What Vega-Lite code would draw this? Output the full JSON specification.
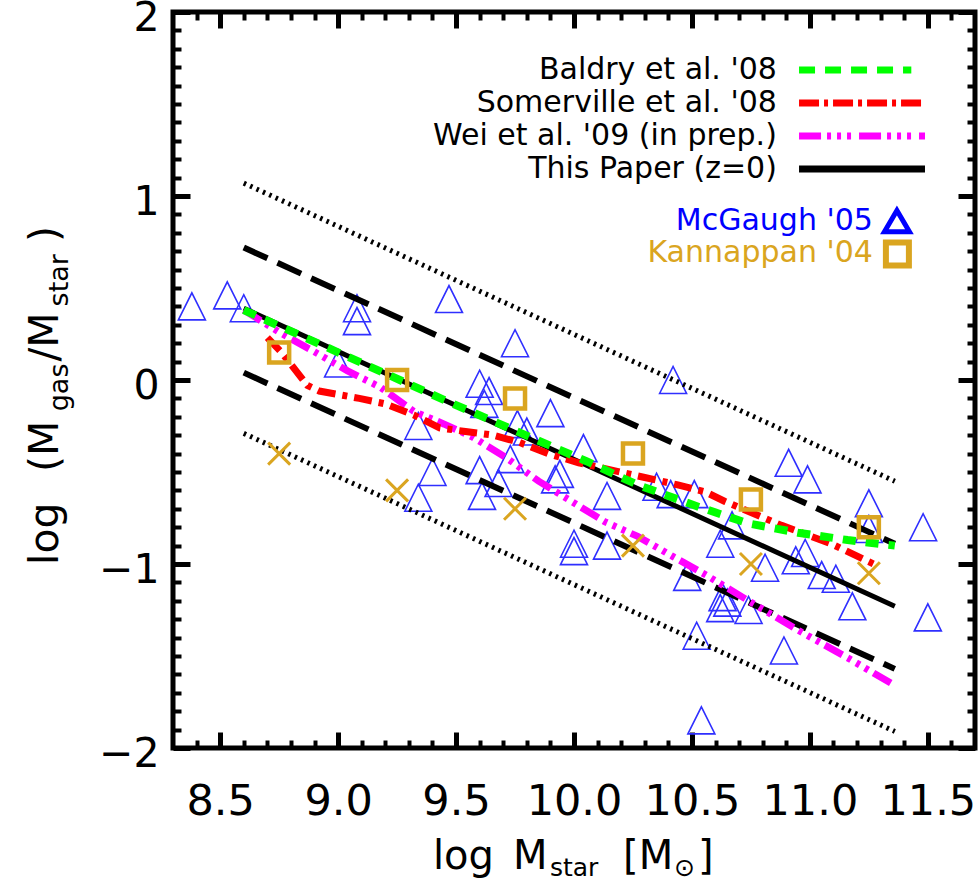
{
  "$schema": "https://vega.github.io/schema/vega-lite/v6.json",
  "width": 802,
  "height": 736,
  "autosize": {"type": "none"},
  "padding": {"left": 173, "top": 12, "right": 5, "bottom": 135},
  "background": "white",
  "config": {"view": {"stroke": "black", "strokeWidth": 5}, "font": "DejaVu Sans"},
  "resolve": {"axis": {"x": "independent", "y": "independent"}},
  "datasets": {
    "one": [{}],
    "tri": [
      {"x": 8.38, "y": 0.40}, {"x": 8.53, "y": 0.46}, {"x": 8.60, "y": 0.39}, {"x": 9.08, "y": 0.39},
      {"x": 9.08, "y": 0.32}, {"x": 9.00, "y": 0.09}, {"x": 9.47, "y": 0.44}, {"x": 9.75, "y": 0.20},
      {"x": 9.60, "y": -0.02}, {"x": 9.64, "y": -0.06}, {"x": 9.62, "y": -0.13}, {"x": 9.76, "y": -0.24},
      {"x": 9.80, "y": -0.28}, {"x": 9.90, "y": -0.18}, {"x": 10.04, "y": -0.37}, {"x": 10.42, "y": 0.00},
      {"x": 9.34, "y": -0.25}, {"x": 9.40, "y": -0.50}, {"x": 9.34, "y": -0.64}, {"x": 9.60, "y": -0.49},
      {"x": 9.61, "y": -0.63}, {"x": 9.68, "y": -0.56}, {"x": 9.73, "y": -0.43}, {"x": 9.92, "y": -0.54},
      {"x": 9.94, "y": -0.51}, {"x": 10.14, "y": -0.63}, {"x": 10.00, "y": -0.89}, {"x": 10.00, "y": -0.93},
      {"x": 10.14, "y": -0.90}, {"x": 10.35, "y": -0.58}, {"x": 10.41, "y": -0.62}, {"x": 10.51, "y": -0.62},
      {"x": 10.62, "y": -0.89}, {"x": 10.67, "y": -0.79}, {"x": 10.91, "y": -0.45}, {"x": 10.99, "y": -0.54},
      {"x": 11.25, "y": -0.67}, {"x": 11.25, "y": -0.81}, {"x": 11.48, "y": -0.80}, {"x": 11.50, "y": -1.29},
      {"x": 10.48, "y": -1.07}, {"x": 10.52, "y": -1.39}, {"x": 10.54, "y": -1.85}, {"x": 10.81, "y": -1.02},
      {"x": 10.94, "y": -0.98}, {"x": 10.98, "y": -0.94}, {"x": 11.05, "y": -1.06}, {"x": 11.11, "y": -1.08},
      {"x": 11.18, "y": -1.23}, {"x": 10.89, "y": -1.47}, {"x": 10.63, "y": -1.18}, {"x": 10.65, "y": -1.21},
      {"x": 10.62, "y": -1.24}, {"x": 10.74, "y": -1.25}
    ],
    "sq": [
      {"x": 8.75, "y": 0.15}, {"x": 9.25, "y": 0.0}, {"x": 9.75, "y": -0.10},
      {"x": 10.25, "y": -0.40}, {"x": 10.75, "y": -0.65}, {"x": 11.25, "y": -0.80}
    ],
    "cr": [
      {"x": 8.75, "y": -0.40}, {"x": 9.25, "y": -0.60}, {"x": 9.75, "y": -0.70},
      {"x": 10.25, "y": -0.90}, {"x": 10.75, "y": -1.00}, {"x": 11.25, "y": -1.05}
    ],
    "lines": [
      {"s": "solid", "x": 8.60, "y": 0.39}, {"s": "solid", "x": 11.36, "y": -1.23},
      {"s": "dash_hi", "x": 8.60, "y": 0.72}, {"s": "dash_hi", "x": 11.36, "y": -0.89},
      {"s": "dash_lo", "x": 8.60, "y": 0.04}, {"s": "dash_lo", "x": 11.36, "y": -1.57},
      {"s": "dot_hi", "x": 8.60, "y": 1.07}, {"s": "dot_hi", "x": 11.36, "y": -0.55},
      {"s": "dot_lo", "x": 8.60, "y": -0.29}, {"s": "dot_lo", "x": 11.36, "y": -1.91},
      {"s": "green", "x": 8.60, "y": 0.38}, {"s": "green", "x": 9.47, "y": -0.12}, {"s": "green", "x": 9.85, "y": -0.33},
      {"s": "green", "x": 10.05, "y": -0.44}, {"s": "green", "x": 10.27, "y": -0.57}, {"s": "green", "x": 10.53, "y": -0.69},
      {"s": "green", "x": 10.74, "y": -0.78}, {"s": "green", "x": 10.95, "y": -0.83}, {"s": "green", "x": 11.16, "y": -0.87},
      {"s": "green", "x": 11.36, "y": -0.90},
      {"s": "red", "x": 8.70, "y": 0.23}, {"s": "red", "x": 8.76, "y": 0.15}, {"s": "red", "x": 8.87, "y": -0.03},
      {"s": "red", "x": 8.92, "y": -0.06}, {"s": "red", "x": 9.09, "y": -0.10}, {"s": "red", "x": 9.20, "y": -0.13},
      {"s": "red", "x": 9.32, "y": -0.19}, {"s": "red", "x": 9.43, "y": -0.26}, {"s": "red", "x": 9.54, "y": -0.28},
      {"s": "red", "x": 9.66, "y": -0.30}, {"s": "red", "x": 9.77, "y": -0.34}, {"s": "red", "x": 9.89, "y": -0.40},
      {"s": "red", "x": 10.02, "y": -0.45}, {"s": "red", "x": 10.16, "y": -0.49}, {"s": "red", "x": 10.30, "y": -0.53},
      {"s": "red", "x": 10.44, "y": -0.57}, {"s": "red", "x": 10.56, "y": -0.61}, {"s": "red", "x": 10.64, "y": -0.66},
      {"s": "red", "x": 10.88, "y": -0.79}, {"s": "red", "x": 11.09, "y": -0.89}, {"s": "red", "x": 11.27, "y": -1.00},
      {"s": "mag", "x": 8.60, "y": 0.38}, {"s": "mag", "x": 8.75, "y": 0.26}, {"s": "mag", "x": 8.89, "y": 0.16},
      {"s": "mag", "x": 9.04, "y": 0.05}, {"s": "mag", "x": 9.18, "y": -0.04}, {"s": "mag", "x": 9.32, "y": -0.17},
      {"s": "mag", "x": 9.45, "y": -0.24}, {"s": "mag", "x": 9.57, "y": -0.31}, {"s": "mag", "x": 9.71, "y": -0.42},
      {"s": "mag", "x": 9.85, "y": -0.55}, {"s": "mag", "x": 9.99, "y": -0.66}, {"s": "mag", "x": 10.13, "y": -0.77},
      {"s": "mag", "x": 10.27, "y": -0.85}, {"s": "mag", "x": 10.42, "y": -0.96}, {"s": "mag", "x": 10.56, "y": -1.06},
      {"s": "mag", "x": 10.74, "y": -1.20}, {"s": "mag", "x": 10.95, "y": -1.36}, {"s": "mag", "x": 11.16, "y": -1.51},
      {"s": "mag", "x": 11.36, "y": -1.66}
    ]
  },
  "layer": [
    {
      "data": {"name": "tri"},
      "mark": {"type": "point", "shape": "M-1,1L0,-1L1,1Z", "size": 729, "filled": false, "color": "#2f2fff", "strokeWidth": 1.6, "opacity": 1},
      "encoding": {
        "x": {"field": "x", "type": "quantitative", "scale": {"domain": [8.3, 11.7], "nice": false, "zero": false},
          "axis": {"orient": "bottom", "values": [8.5, 9, 9.5, 10, 10.5, 11, 11.5], "format": ".1f", "ticks": false, "domain": false, "grid": false,
            "labelFontSize": 43, "labelFont": "DejaVu Sans", "labelColor": "black", "labelPadding": 32, "labelFlush": false, "labelOverlap": false, "title": null}},
        "y": {"field": "y", "type": "quantitative", "scale": {"domain": [-2, 2], "nice": false, "zero": false},
          "axis": {"orient": "left", "values": [-2, -1, 0, 1, 2], "format": "d", "ticks": false, "domain": false, "grid": false,
            "labelFontSize": 41, "labelFont": "DejaVu Sans", "labelColor": "black", "labelPadding": 14, "labelOffset": 6, "labelFlush": false, "labelOverlap": false, "title": null}}
      }
    },
    {
      "data": {"name": "lines"},
      "transform": [{"filter": "datum.s === 'dot_hi'"}],
      "mark": {"type": "line", "color": "black", "strokeWidth": 5, "strokeDash": [2.5, 4.5]},
      "encoding": {
        "x": {"field": "x", "type": "quantitative", "scale": {"domain": [8.3, 11.7], "nice": false, "zero": false},
          "axis": {"orient": "bottom", "values": [8.5, 9, 9.5, 10, 10.5, 11, 11.5], "labels": false, "domain": false, "grid": false, "tickSize": -16, "tickWidth": 5, "tickColor": "black", "title": null}},
        "y": {"field": "y", "type": "quantitative", "scale": {"domain": [-2, 2], "nice": false, "zero": false},
          "axis": {"orient": "left", "values": [-2, -1, 0, 1, 2], "labels": false, "domain": false, "grid": false, "tickSize": -17, "tickWidth": 5, "tickColor": "black", "title": null}}
      }
    },
    {
      "data": {"name": "lines"},
      "transform": [{"filter": "datum.s === 'dot_lo'"}],
      "mark": {"type": "line", "color": "black", "strokeWidth": 5, "strokeDash": [2.5, 4.5]},
      "encoding": {
        "x": {"field": "x", "type": "quantitative", "scale": {"domain": [8.3, 11.7], "nice": false, "zero": false},
          "axis": {"orient": "bottom", "values": [8.4, 8.6, 8.7, 8.8, 8.9, 9.1, 9.2, 9.3, 9.4, 9.6, 9.7, 9.8, 9.9, 10.1, 10.2, 10.3, 10.4, 10.6, 10.7, 10.8, 10.9, 11.1, 11.2, 11.3, 11.4, 11.6], "labels": false, "domain": false, "grid": false, "tickSize": -8, "tickWidth": 4, "tickColor": "black", "title": null}},
        "y": {"field": "y", "type": "quantitative", "scale": {"domain": [-2, 2], "nice": false, "zero": false},
          "axis": {"orient": "left", "values": [-1.9, -1.8, -1.7, -1.6, -1.5, -1.4, -1.3, -1.2, -1.1, -0.9, -0.8, -0.7, -0.6, -0.5, -0.4, -0.3, -0.2, -0.1, 0.1, 0.2, 0.3, 0.4, 0.5, 0.6, 0.7, 0.8, 0.9, 1.1, 1.2, 1.3, 1.4, 1.5, 1.6, 1.7, 1.8, 1.9], "labels": false, "domain": false, "grid": false, "tickSize": -8, "tickWidth": 4, "tickColor": "black", "title": null}}
      }
    },
    {
      "data": {"name": "lines"},
      "transform": [{"filter": "datum.s === 'dash_hi'"}],
      "mark": {"type": "line", "color": "black", "strokeWidth": 6, "strokeDash": [26, 11]},
      "encoding": {
        "x": {"field": "x", "type": "quantitative", "scale": {"domain": [8.3, 11.7], "nice": false, "zero": false},
          "axis": {"orient": "top", "values": [8.5, 9, 9.5, 10, 10.5, 11, 11.5], "labels": false, "domain": false, "grid": false, "tickSize": -16, "tickWidth": 5, "tickColor": "black", "title": null}},
        "y": {"field": "y", "type": "quantitative", "scale": {"domain": [-2, 2], "nice": false, "zero": false},
          "axis": {"orient": "right", "values": [-2, -1, 0, 1, 2], "labels": false, "domain": false, "grid": false, "tickSize": -17, "tickWidth": 5, "tickColor": "black", "title": null}}
      }
    },
    {
      "data": {"name": "lines"},
      "transform": [{"filter": "datum.s === 'dash_lo'"}],
      "mark": {"type": "line", "color": "black", "strokeWidth": 6, "strokeDash": [26, 11]},
      "encoding": {
        "x": {"field": "x", "type": "quantitative", "scale": {"domain": [8.3, 11.7], "nice": false, "zero": false},
          "axis": {"orient": "top", "values": [8.4, 8.6, 8.7, 8.8, 8.9, 9.1, 9.2, 9.3, 9.4, 9.6, 9.7, 9.8, 9.9, 10.1, 10.2, 10.3, 10.4, 10.6, 10.7, 10.8, 10.9, 11.1, 11.2, 11.3, 11.4, 11.6], "labels": false, "domain": false, "grid": false, "tickSize": -8, "tickWidth": 4, "tickColor": "black", "title": null}},
        "y": {"field": "y", "type": "quantitative", "scale": {"domain": [-2, 2], "nice": false, "zero": false},
          "axis": {"orient": "right", "values": [-1.9, -1.8, -1.7, -1.6, -1.5, -1.4, -1.3, -1.2, -1.1, -0.9, -0.8, -0.7, -0.6, -0.5, -0.4, -0.3, -0.2, -0.1, 0.1, 0.2, 0.3, 0.4, 0.5, 0.6, 0.7, 0.8, 0.9, 1.1, 1.2, 1.3, 1.4, 1.5, 1.6, 1.7, 1.8, 1.9], "labels": false, "domain": false, "grid": false, "tickSize": -8, "tickWidth": 4, "tickColor": "black", "title": null}}
      }
    },
    {
      "data": {"name": "lines"},
      "transform": [{"filter": "datum.s === 'solid'"}],
      "mark": {"type": "line", "color": "black", "strokeWidth": 5},
      "encoding": {
        "x": {"field": "x", "type": "quantitative", "scale": {"domain": [8.3, 11.7], "nice": false, "zero": false}, "axis": null},
        "y": {"field": "y", "type": "quantitative", "scale": {"domain": [-2, 2], "nice": false, "zero": false}, "axis": null}
      }
    },
    {
      "data": {"name": "lines"},
      "transform": [{"filter": "datum.s === 'mag'"}],
      "mark": {"type": "line", "color": "#ff00ff", "strokeWidth": 7, "strokeDash": [20, 6, 4, 6, 4, 6, 4, 6]},
      "encoding": {
        "x": {"field": "x", "type": "quantitative", "scale": {"domain": [8.3, 11.7], "nice": false, "zero": false}, "axis": null},
        "y": {"field": "y", "type": "quantitative", "scale": {"domain": [-2, 2], "nice": false, "zero": false}, "axis": null}
      }
    },
    {
      "data": {"name": "lines"},
      "transform": [{"filter": "datum.s === 'red'"}],
      "mark": {"type": "line", "color": "#ff0000", "strokeWidth": 7, "strokeDash": [18, 7, 5, 7]},
      "encoding": {
        "x": {"field": "x", "type": "quantitative", "scale": {"domain": [8.3, 11.7], "nice": false, "zero": false}, "axis": null},
        "y": {"field": "y", "type": "quantitative", "scale": {"domain": [-2, 2], "nice": false, "zero": false}, "axis": null}
      }
    },
    {
      "data": {"name": "lines"},
      "transform": [{"filter": "datum.s === 'green'"}],
      "mark": {"type": "line", "color": "#00ff00", "strokeWidth": 8, "strokeDash": [13, 10]},
      "encoding": {
        "x": {"field": "x", "type": "quantitative", "scale": {"domain": [8.3, 11.7], "nice": false, "zero": false}, "axis": null},
        "y": {"field": "y", "type": "quantitative", "scale": {"domain": [-2, 2], "nice": false, "zero": false}, "axis": null}
      }
    },
    {
      "data": {"name": "sq"},
      "mark": {"type": "point", "shape": "square", "size": 400, "filled": false, "color": "#daa520", "strokeWidth": 4.5, "opacity": 1},
      "encoding": {
        "x": {"field": "x", "type": "quantitative", "scale": {"domain": [8.3, 11.7], "nice": false, "zero": false}, "axis": null},
        "y": {"field": "y", "type": "quantitative", "scale": {"domain": [-2, 2], "nice": false, "zero": false}, "axis": null}
      }
    },
    {
      "data": {"name": "cr"},
      "mark": {"type": "point", "shape": "M-1,-1L1,1M-1,1L1,-1", "size": 484, "filled": false, "color": "#daa520", "strokeWidth": 3, "opacity": 1},
      "encoding": {
        "x": {"field": "x", "type": "quantitative", "scale": {"domain": [8.3, 11.7], "nice": false, "zero": false}, "axis": null},
        "y": {"field": "y", "type": "quantitative", "scale": {"domain": [-2, 2], "nice": false, "zero": false}, "axis": null}
      }
    },
    {
      "data": {"name": "one"},
      "mark": {"type": "rule", "color": "#00ff00", "strokeWidth": 7, "strokeDash": [16, 10]},
      "encoding": {"x": {"datum": 10.954, "type": "quantitative", "axis": null}, "x2": {"datum": 11.43}, "y": {"datum": 1.685, "type": "quantitative", "axis": null}}
    },
    {
      "data": {"name": "one"},
      "mark": {"type": "rule", "color": "#ff0000", "strokeWidth": 7, "strokeDash": [20, 5, 4, 5]},
      "encoding": {"x": {"datum": 10.954, "type": "quantitative", "axis": null}, "x2": {"datum": 11.488}, "y": {"datum": 1.505, "type": "quantitative", "axis": null}}
    },
    {
      "data": {"name": "one"},
      "mark": {"type": "rule", "color": "#ff00ff", "strokeWidth": 7, "strokeDash": [22, 6, 4, 6, 4, 6, 4, 8]},
      "encoding": {"x": {"datum": 10.954, "type": "quantitative", "axis": null}, "x2": {"datum": 11.488}, "y": {"datum": 1.326, "type": "quantitative", "axis": null}}
    },
    {
      "data": {"name": "one"},
      "mark": {"type": "rule", "color": "black", "strokeWidth": 7},
      "encoding": {"x": {"datum": 10.954, "type": "quantitative", "axis": null}, "x2": {"datum": 11.488}, "y": {"datum": 1.147, "type": "quantitative", "axis": null}}
    },
    {
      "data": {"name": "one"},
      "mark": {"type": "text", "text": "Baldry et al. '08", "align": "right", "baseline": "alphabetic", "fontSize": 30, "font": "DejaVu Sans", "color": "black"},
      "encoding": {"x": {"datum": 10.86, "type": "quantitative", "axis": null}, "y": {"datum": 1.636, "type": "quantitative", "axis": null}}
    },
    {
      "data": {"name": "one"},
      "mark": {"type": "text", "text": "Somerville et al. '08", "align": "right", "baseline": "alphabetic", "fontSize": 30, "font": "DejaVu Sans", "color": "black"},
      "encoding": {"x": {"datum": 10.86, "type": "quantitative", "axis": null}, "y": {"datum": 1.457, "type": "quantitative", "axis": null}}
    },
    {
      "data": {"name": "one"},
      "mark": {"type": "text", "text": "Wei et al. '09 (in prep.)", "align": "right", "baseline": "alphabetic", "fontSize": 30, "font": "DejaVu Sans", "color": "black"},
      "encoding": {"x": {"datum": 10.86, "type": "quantitative", "axis": null}, "y": {"datum": 1.277, "type": "quantitative", "axis": null}}
    },
    {
      "data": {"name": "one"},
      "mark": {"type": "text", "text": "This Paper (z=0)", "align": "right", "baseline": "alphabetic", "fontSize": 30, "font": "DejaVu Sans", "color": "black"},
      "encoding": {"x": {"datum": 10.86, "type": "quantitative", "axis": null}, "y": {"datum": 1.098, "type": "quantitative", "axis": null}}
    },
    {
      "data": {"name": "one"},
      "mark": {"type": "text", "text": "McGaugh '05", "align": "right", "baseline": "alphabetic", "fontSize": 30, "font": "DejaVu Sans", "color": "#0000ff"},
      "encoding": {"x": {"datum": 11.267, "type": "quantitative", "axis": null}, "y": {"datum": 0.815, "type": "quantitative", "axis": null}}
    },
    {
      "data": {"name": "one"},
      "mark": {"type": "text", "text": "Kannappan '04", "align": "right", "baseline": "alphabetic", "fontSize": 30, "font": "DejaVu Sans", "color": "#daa520"},
      "encoding": {"x": {"datum": 11.267, "type": "quantitative", "axis": null}, "y": {"datum": 0.641, "type": "quantitative", "axis": null}}
    },
    {
      "data": {"name": "one"},
      "mark": {"type": "point", "shape": "M-1,0.85L0,-0.85L1,0.85Z", "size": 625, "filled": false, "color": "#0000ff", "strokeWidth": 5, "opacity": 1},
      "encoding": {"x": {"datum": 11.369, "type": "quantitative", "axis": null}, "y": {"datum": 0.864, "type": "quantitative", "axis": null}}
    },
    {
      "data": {"name": "one"},
      "mark": {"type": "point", "shape": "square", "size": 529, "filled": false, "color": "#daa520", "strokeWidth": 6, "opacity": 1},
      "encoding": {"x": {"datum": 11.371, "type": "quantitative", "axis": null}, "y": {"datum": 0.685, "type": "quantitative", "axis": null}}
    },
    {
      "data": {"name": "one"},
      "mark": {"type": "text", "text": "log", "align": "left", "baseline": "alphabetic", "fontSize": 40, "font": "DejaVu Sans", "color": "black"},
      "encoding": {"x": {"datum": 9.402, "type": "quantitative", "axis": null}, "y": {"datum": -2.66, "type": "quantitative", "axis": null}}
    },
    {
      "data": {"name": "one"},
      "mark": {"type": "text", "text": "M", "align": "left", "baseline": "alphabetic", "fontSize": 40, "font": "DejaVu Sans", "color": "black"},
      "encoding": {"x": {"datum": 9.741, "type": "quantitative", "axis": null}, "y": {"datum": -2.66, "type": "quantitative", "axis": null}}
    },
    {
      "data": {"name": "one"},
      "mark": {"type": "text", "text": "star", "align": "left", "baseline": "alphabetic", "fontSize": 25, "font": "DejaVu Sans", "color": "black"},
      "encoding": {"x": {"datum": 9.898, "type": "quantitative", "axis": null}, "y": {"datum": -2.695, "type": "quantitative", "axis": null}}
    },
    {
      "data": {"name": "one"},
      "mark": {"type": "text", "text": "[M", "align": "left", "baseline": "alphabetic", "fontSize": 40, "font": "DejaVu Sans", "color": "black"},
      "encoding": {"x": {"datum": 10.208, "type": "quantitative", "axis": null}, "y": {"datum": -2.66, "type": "quantitative", "axis": null}}
    },
    {
      "data": {"name": "one"},
      "mark": {"type": "text", "text": "⊙", "align": "left", "baseline": "alphabetic", "fontSize": 25, "font": "DejaVu Sans", "color": "black"},
      "encoding": {"x": {"datum": 10.424, "type": "quantitative", "axis": null}, "y": {"datum": -2.695, "type": "quantitative", "axis": null}}
    },
    {
      "data": {"name": "one"},
      "mark": {"type": "text", "text": "]", "align": "left", "baseline": "alphabetic", "fontSize": 40, "font": "DejaVu Sans", "color": "black"},
      "encoding": {"x": {"datum": 10.526, "type": "quantitative", "axis": null}, "y": {"datum": -2.66, "type": "quantitative", "axis": null}}
    },
    {
      "data": {"name": "one"},
      "mark": {"type": "text", "text": "log", "angle": 270, "align": "left", "baseline": "alphabetic", "fontSize": 41, "font": "DejaVu Sans", "color": "black"},
      "encoding": {"x": {"datum": 7.8125, "type": "quantitative", "axis": null}, "y": {"datum": -1.005, "type": "quantitative", "axis": null}}
    },
    {
      "data": {"name": "one"},
      "mark": {"type": "text", "text": "(M", "angle": 270, "align": "left", "baseline": "alphabetic", "fontSize": 41, "font": "DejaVu Sans", "color": "black"},
      "encoding": {"x": {"datum": 7.8125, "type": "quantitative", "axis": null}, "y": {"datum": -0.5, "type": "quantitative", "axis": null}}
    },
    {
      "data": {"name": "one"},
      "mark": {"type": "text", "text": "gas", "angle": 270, "align": "left", "baseline": "alphabetic", "fontSize": 27, "font": "DejaVu Sans", "color": "black"},
      "encoding": {"x": {"datum": 7.855, "type": "quantitative", "axis": null}, "y": {"datum": -0.17, "type": "quantitative", "axis": null}}
    },
    {
      "data": {"name": "one"},
      "mark": {"type": "text", "text": "/M", "angle": 270, "align": "left", "baseline": "alphabetic", "fontSize": 41, "font": "DejaVu Sans", "color": "black"},
      "encoding": {"x": {"datum": 7.8125, "type": "quantitative", "axis": null}, "y": {"datum": 0.1, "type": "quantitative", "axis": null}}
    },
    {
      "data": {"name": "one"},
      "mark": {"type": "text", "text": "star", "angle": 270, "align": "left", "baseline": "alphabetic", "fontSize": 27, "font": "DejaVu Sans", "color": "black"},
      "encoding": {"x": {"datum": 7.855, "type": "quantitative", "axis": null}, "y": {"datum": 0.4, "type": "quantitative", "axis": null}}
    },
    {
      "data": {"name": "one"},
      "mark": {"type": "text", "text": ")", "angle": 270, "align": "left", "baseline": "alphabetic", "fontSize": 41, "font": "DejaVu Sans", "color": "black"},
      "encoding": {"x": {"datum": 7.8125, "type": "quantitative", "axis": null}, "y": {"datum": 0.75, "type": "quantitative", "axis": null}}
    }
  ]
}
